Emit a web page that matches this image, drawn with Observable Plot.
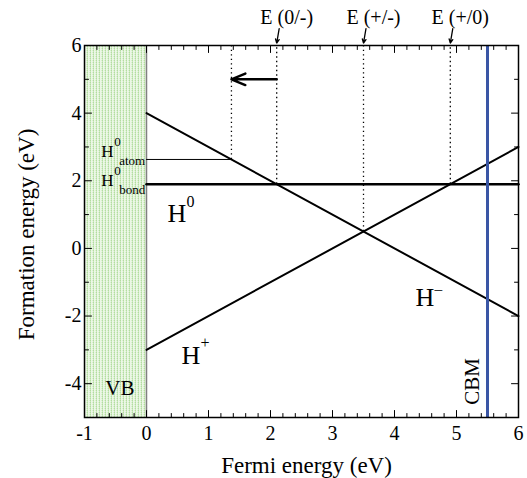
<!DOCTYPE html>
<html><head><meta charset="utf-8">
<script src="https://cdn.jsdelivr.net/npm/d3@7"></script>
<script src="https://cdn.jsdelivr.net/npm/@observablehq/plot@0.6"></script>
<style>body{margin:0;background:#fff} svg text{font-family:'Liberation Serif','Times New Roman',serif}</style>
</head><body><div id="chart"></div>
<script>
// ---- data ----
const xMajor = [-1, 0, 1, 2, 3, 4, 5, 6];
const xMinor = [-0.8,-0.6,-0.4,-0.2,0.2,0.4,0.6,0.8,1.2,1.4,1.6,1.8,2.2,2.4,2.6,2.8,3.2,3.4,3.6,3.8,4.2,4.4,4.6,4.8,5.2,5.4,5.6,5.8];
const yMajor = [-4, -2, 0, 2, 4, 6];
const yMinor = [-5, -3, -1, 1, 3, 5];

const vbRange = [-1, 0];
const cbm = 5.5;

const hPlusX = [0, 6], hPlusY = [-3, 3];
const hMinusX = [0, 6], hMinusY = [4, -2];
const h0BondX = [0, 6], h0BondY = [1.9, 1.9];
const h0AtomX = [0, 1.37], h0AtomY = [2.63, 2.63];

const levelX = [1.37, 2.1, 3.5, 4.9];
const levelY = [2.63, 1.9, 0.5, 1.9];

const transitionNames = ["E (0/-)", "E (+/-)", "E (+/0)"];
const transitionX = [2.1, 3.5, 4.9];

const shiftFrom = [2.1, 5], shiftTo = [1.37, 5];

const labelX = [-0.73, -0.73, 0.34, 4.34, 0.565];
const labelY = [2.86, 2.0, 1.02, -1.45, -3.16];
const labelBase = ["H", "H", "H", "H", "H"];
const labelSup = ["0", "0", "0", "\u2212", "+"];
const labelSub = ["atom", "bond", "", "", ""];

const bandNames = ["VB", "CBM"];
const bandX = [-0.43, 5.26];
const bandY = [-4.13, -3.93];

// ---- build ----
const FONT = "'Liberation Serif', 'Times New Roman', serif";
const line = (xs, ys) => xs.map((x, i) => ({x, y: ys[i]}));
const labels = labelBase.map((b, i) => ({x: labelX[i], y: labelY[i], base: b, sup: labelSup[i], sub: labelSub[i], small: labelSub[i] !== ""}));
const levels = levelX.map((x, i) => ({x, y: levelY[i]}));
const transitions = transitionNames.map((t, i) => ({t, x: transitionX[i]}));
const bands = bandNames.map((n, i) => ({n, x: bandX[i], y: bandY[i]}));
const fmt = d => String(d);
const tickShape = {draw(ctx, l) { ctx.moveTo(0, 0); ctx.lineTo(0, -l); }};
const ticks = (values, side, len) => {
  const opts = {stroke: "#000", strokeWidth: 1, shape: tickShape, anchor: "start", length: len, frameAnchor: side};
  if (side === "bottom") return Plot.vector(values, {...opts, x: d => d, rotate: 0});
  if (side === "top") return Plot.vector(values, {...opts, x: d => d, rotate: 180});
  if (side === "left") return Plot.vector(values, {...opts, y: d => d, rotate: 90});
  return Plot.vector(values, {...opts, y: d => d, rotate: 270});
};

const svg = Plot.plot({
  width: 527, height: 478,
  marginLeft: 84, marginRight: 9, marginTop: 45, marginBottom: 61,
  x: {domain: [-1, 6], label: null},
  y: {domain: [-5, 6], label: null},
  style: {fontFamily: FONT, fontSize: "20px", background: "#fff", color: "#000"},
  marks: [
    Plot.rect([vbRange], {x1: d => d[0], x2: d => d[1], y1: -5, y2: 6, fill: "url(#vbPat)"}),
    Plot.ruleX([vbRange[1]], {stroke: "#808080", strokeWidth: 1.5}),
    Plot.ruleX(levels, {x: "x", y1: "y", y2: 6, stroke: "#000", strokeWidth: 1.3, strokeDasharray: "1.3,3.2"}),
    Plot.line(line(h0AtomX, h0AtomY), {x: "x", y: "y", stroke: "#000", strokeWidth: 1}),
    Plot.line(line(h0BondX, h0BondY), {x: "x", y: "y", stroke: "#000", strokeWidth: 2.5}),
    Plot.line(line(hPlusX, hPlusY), {x: "x", y: "y", stroke: "#000", strokeWidth: 2}),
    Plot.line(line(hMinusX, hMinusY), {x: "x", y: "y", stroke: "#000", strokeWidth: 2}),
    Plot.ruleX([cbm], {stroke: "#3a56a5", strokeWidth: 3}),
    Plot.arrow([[shiftFrom, shiftTo]], {x1: d => d[0][0], y1: d => d[0][1], x2: d => d[1][0], y2: d => d[1][1], stroke: "#000", strokeWidth: 2.5, headLength: 9, headAngle: 45}),
    // transition labels and small arrows
    Plot.text(transitions, {x: "x", text: "t", frameAnchor: "top", lineAnchor: "middle", textAnchor: "middle", dx: 10, dy: -28, fontSize: 20, fontFamily: FONT}),
    Plot.arrow(transitions, {x1: d => d.x + 0.04, y1: 6.5, x2: "x", y2: 6.07, stroke: "#000", strokeWidth: 1.3, headLength: 5, headAngle: 50}),
    // species labels
    Plot.text(labels.filter(d => d.small), {x: "x", y: "y", text: "base", textAnchor: "start", fontSize: 17, fontFamily: FONT}),
    Plot.text(labels.filter(d => d.small), {x: "x", y: "y", text: "sup", textAnchor: "start", fontSize: 13, dx: 13, dy: -10, fontFamily: FONT}),
    Plot.text(labels.filter(d => d.small), {x: "x", y: "y", text: "sub", textAnchor: "start", fontSize: 13, dx: 18, dy: 9, fontFamily: FONT}),
    Plot.text(labels.filter(d => !d.small), {x: "x", y: "y", text: "base", textAnchor: "start", fontSize: 26, fontFamily: FONT}),
    Plot.text(labels.filter(d => !d.small && d.sup !== "\u2212"), {x: "x", y: "y", text: "sup", textAnchor: "start", fontSize: 16, dx: 19, dy: -12, fontFamily: FONT}),
    Plot.text(labels.filter(d => d.sup === "\u2212"), {x: "x", y: "y", text: "sup", textAnchor: "start", fontSize: 17, dx: 18, dy: -7, fontFamily: FONT}),
    // band labels
    Plot.text(bands.filter(d => d.n === "VB"), {x: "x", y: "y", text: "n", fontSize: 21, fontFamily: FONT}),
    Plot.text(bands.filter(d => d.n === "CBM"), {x: "x", y: "y", text: "n", fontSize: 21, rotate: -90, fontFamily: FONT}),
    // tick labels
    Plot.axisX(xMajor, {anchor: "bottom", tickSize: 0, tickPadding: 8, tickFormat: fmt, fontSize: 20, fontFamily: FONT, label: null}),
    Plot.axisY(yMajor, {anchor: "left", tickSize: 0, tickPadding: 3, tickFormat: fmt, fontSize: 20, fontFamily: FONT, label: null}),
    // inward ticks on all four sides
    ticks(xMajor, "bottom", 7), ticks(xMinor, "bottom", 4),
    ticks(xMajor, "top", 7), ticks(xMinor, "top", 4),
    ticks(yMajor, "left", 7), ticks(yMinor, "left", 4),
    ticks(yMajor, "right", 7), ticks(yMinor, "right", 4),
    Plot.frame({stroke: "#000", strokeWidth: 1.5}),
    // axis titles
    Plot.text(["Fermi energy (eV)"], {x: null, y: null, text: d => d, frameAnchor: "bottom", textAnchor: "middle", lineAnchor: "middle", dx: 5, dy: 48, fontSize: 23, fontFamily: FONT}),
    Plot.text(["Formation energy (eV)"], {x: null, y: null, text: d => d, frameAnchor: "left", textAnchor: "middle", lineAnchor: "middle", rotate: -90, dx: -58, dy: 3, fontSize: 23, fontFamily: FONT})
  ]
});

// stipple pattern for the valence band region
const ns = "http://www.w3.org/2000/svg";
const defs = document.createElementNS(ns, "defs");
const pat = document.createElementNS(ns, "pattern");
pat.setAttribute("id", "vbPat");
pat.setAttribute("width", "3");
pat.setAttribute("height", "2");
pat.setAttribute("patternUnits", "userSpaceOnUse");
[["0","0","3","2","#ecf7e6"],["0","0","1","1","#b3dda0"],["0","1","1","1","#cbe9be"],["2","0","1","1","#d9f0ce"]].forEach(([x,y,w,h,f]) => {
  const r = document.createElementNS(ns, "rect");
  r.setAttribute("x", x); r.setAttribute("y", y); r.setAttribute("width", w); r.setAttribute("height", h); r.setAttribute("fill", f);
  pat.appendChild(r);
});
defs.appendChild(pat);
svg.insertBefore(defs, svg.firstChild);
document.getElementById("chart").appendChild(svg);
</script>
</body></html>
